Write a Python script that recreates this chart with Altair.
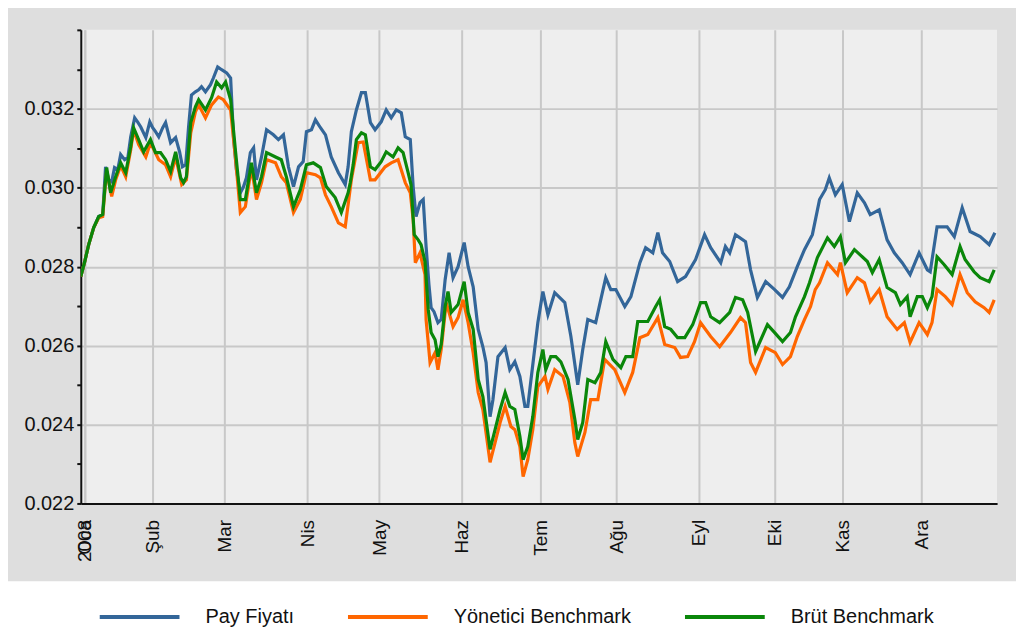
import altair as alt
import pandas as pd

series_names = ["Pay Fiyatı", "Yönetici Benchmark", "Brüt Benchmark"]
series_colors = ["#336699", "#ff6600", "#0a870a"]

pay_days = [0, 1.1, 2.2, 3.6, 5.0, 6.1, 6.9, 7.8, 8.6, 9.4, 10.3, 11.1, 12.2, 13.1, 13.9, 15.0, 15.8, 16.7, 18.1, 19.2,
            20.0, 20.8, 21.7, 22.8, 23.6, 25.0, 26.4, 27.5, 28.3, 29.2, 30.0, 30.8, 31.9, 32.8, 33.6, 34.7, 36.1, 36.9, 38.1, 39.2,
            40.6, 41.7, 42.5, 43.3, 44.4, 45.3, 46.1, 47.2, 48.1, 48.9, 50.3, 51.7, 53.6, 55.0, 56.4, 57.8, 59.2, 60.6, 61.9, 62.8,
            64.2, 65.3, 66.7, 68.1, 69.7, 71.7, 73.6, 74.4, 75.3, 76.7, 78.1, 79.2, 80.6, 81.9, 83.6, 85.0, 86.4, 87.8, 89.2, 90.3,
            91.7, 92.5, 93.3, 94.4, 95.3, 96.1, 96.9, 97.5, 98.3, 99.4, 100.3, 101.4, 102.5, 103.6, 105.0, 106.7, 107.8, 109.2, 110.6, 111.9,
            112.8, 113.9, 114.7, 116.1, 118.1, 119.4, 120.8, 122.2, 123.6, 124.4, 125.3, 127.2, 128.6, 130.0, 131.9, 134.7, 136.4, 138.3, 139.7, 141.1,
            143.3, 144.7, 146.1, 147.5, 148.9, 151.4, 153.1, 155.6, 157.2, 159.2, 160.6, 161.9, 163.9, 166.1, 168.3, 171.1, 173.6, 175.3, 178.1, 179.4,
            180.6, 182.2, 185.0, 186.4, 188.3, 190.6, 193.1, 195.3, 197.2, 199.4, 201.4, 203.6, 205.6, 207.2, 208.3, 210.0, 211.9, 213.9, 216.1, 218.1,
            219.7, 222.2, 224.4, 226.4, 228.6, 230.8, 233.3, 235.6, 236.4, 238.3, 241.1, 243.1, 245.3, 247.5, 250.3, 252.8, 254.4]
pay_values = [0.02775, 0.02813, 0.02856, 0.02899, 0.02927, 0.02932, 0.03053, 0.03020, 0.03015, 0.03051, 0.03046, 0.03084, 0.03071, 0.03076, 0.03129, 0.03177, 0.03167, 0.03154, 0.03127, 0.03167,
              0.03152, 0.03142, 0.03129, 0.03152, 0.03165, 0.03114, 0.03127, 0.03091, 0.03053, 0.03058, 0.03154, 0.03235, 0.03243, 0.03248, 0.03256, 0.03243, 0.03261, 0.03278, 0.03306, 0.03299,
              0.03291, 0.03278, 0.03129, 0.03046, 0.02987, 0.03003, 0.03025, 0.03089, 0.03101, 0.03020, 0.03078, 0.03147, 0.03134, 0.03122, 0.03134, 0.03053, 0.03003, 0.03053, 0.03066, 0.03142,
              0.03147, 0.03172, 0.03152, 0.03134, 0.03078, 0.03038, 0.03008, 0.03053, 0.03142, 0.03197, 0.03241, 0.03241, 0.03165, 0.03147, 0.03167, 0.03197, 0.03177, 0.03197, 0.03190, 0.03129,
              0.03122, 0.03003, 0.02927, 0.02962, 0.02970, 0.02851, 0.02754, 0.02696, 0.02686, 0.02658, 0.02666, 0.02767, 0.02835, 0.02772, 0.02800, 0.02861, 0.02800, 0.02749, 0.02641, 0.02597,
              0.02557, 0.02420, 0.02463, 0.02572, 0.02595, 0.02539, 0.02559, 0.02522, 0.02446, 0.02446, 0.02514, 0.02658, 0.02737, 0.02678, 0.02734, 0.02709, 0.02623, 0.02501, 0.02590, 0.02666,
              0.02658, 0.02716, 0.02772, 0.02742, 0.02742, 0.02699, 0.02724, 0.02810, 0.02848, 0.02835, 0.02886, 0.02835, 0.02813, 0.02762, 0.02775, 0.02818, 0.02881, 0.02848, 0.02810, 0.02851,
              0.02835, 0.02881, 0.02863, 0.02792, 0.02722, 0.02762, 0.02742, 0.02722, 0.02749, 0.02800, 0.02843, 0.02881, 0.02970, 0.02995, 0.03025, 0.02982, 0.03008, 0.02914, 0.02987, 0.02962,
              0.02932, 0.02944, 0.02868, 0.02835, 0.02810, 0.02780, 0.02835, 0.02792, 0.02787, 0.02901, 0.02901, 0.02876, 0.02949, 0.02889, 0.02876, 0.02856, 0.02886]

yon_days = [0, 1.1, 2.2, 3.6, 5.0, 6.1, 6.9, 7.2, 8.6, 9.7, 11.1, 12.5, 13.9, 14.7, 16.1, 18.1, 19.4, 21.7, 23.6, 25.0,
            26.4, 28.1, 29.4, 30.6, 31.9, 32.8, 34.7, 36.4, 38.3, 39.7, 41.7, 43.1, 44.4, 45.8, 47.5, 48.9, 50.3, 51.7, 54.2, 55.8,
            57.2, 59.2, 61.1, 62.8, 65.3, 66.7, 68.1, 69.7, 71.7, 73.6, 75.3, 77.2, 78.6, 80.6, 81.9, 84.7, 86.4, 88.3, 90.3, 91.7,
            92.5, 93.1, 94.4, 95.8, 96.1, 97.2, 98.6, 99.4, 100.3, 101.7, 103.6, 105.0, 106.4, 107.8, 109.2, 110.6, 111.9, 113.9, 115.3, 116.7,
            118.1, 119.7, 120.8, 122.2, 123.1, 124.4, 125.8, 127.2, 129.2, 130.0, 131.9, 134.2, 136.1, 137.5, 138.3, 140.3, 141.9, 143.9, 145.8, 148.6,
            151.4, 153.6, 155.6, 157.8, 160.6, 162.5, 165.3, 166.9, 168.9, 170.8, 172.5, 175.3, 177.8, 180.8, 183.6, 185.0, 186.4, 187.8, 190.6, 193.3,
            195.3, 197.5, 199.4, 201.4, 203.1, 204.4, 205.6, 207.8, 210.6, 211.4, 213.3, 216.1, 218.1, 219.7, 222.2, 224.4, 227.2, 229.2, 230.8, 233.3,
            235.6, 236.9, 238.3, 240.6, 242.5, 244.7, 246.7, 248.9, 251.4, 252.8, 254.2]
yon_values = [0.02775, 0.02813, 0.02856, 0.02899, 0.02924, 0.02927, 0.03015, 0.03041, 0.02978, 0.03020, 0.03056, 0.03028, 0.03096, 0.03147, 0.03109, 0.03078, 0.03114, 0.03071, 0.03058, 0.03028,
              0.03078, 0.03008, 0.03020, 0.03139, 0.03192, 0.03210, 0.03177, 0.03210, 0.03230, 0.03223, 0.03197, 0.03071, 0.02937, 0.02952, 0.03051, 0.02970, 0.03013, 0.03071, 0.03063, 0.03028,
              0.03013, 0.02937, 0.02970, 0.03038, 0.03033, 0.03025, 0.02982, 0.02952, 0.02911, 0.02901, 0.03020, 0.03114, 0.03116, 0.03020, 0.03020, 0.03053, 0.03063, 0.03071, 0.03013, 0.02987,
              0.02919, 0.02810, 0.02835, 0.02780, 0.02666, 0.02557, 0.02582, 0.02539, 0.02590, 0.02709, 0.02648, 0.02671, 0.02716, 0.02658, 0.02582, 0.02481, 0.02438, 0.02304, 0.02354, 0.02405,
              0.02446, 0.02395, 0.02387, 0.02344, 0.02268, 0.02311, 0.02387, 0.02496, 0.02522, 0.02489, 0.02539, 0.02522, 0.02456, 0.02354, 0.02319, 0.02380, 0.02463, 0.02463, 0.02565, 0.02539,
              0.02481, 0.02532, 0.02620, 0.02628, 0.02671, 0.02603, 0.02595, 0.02570, 0.02572, 0.02610, 0.02658, 0.02623, 0.02597, 0.02633, 0.02671, 0.02658, 0.02557, 0.02532, 0.02595, 0.02582,
              0.02552, 0.02572, 0.02623, 0.02666, 0.02699, 0.02742, 0.02759, 0.02810, 0.02780, 0.02810, 0.02734, 0.02772, 0.02759, 0.02711, 0.02742, 0.02673, 0.02641, 0.02658, 0.02608, 0.02658,
              0.02628, 0.02658, 0.02742, 0.02724, 0.02704, 0.02780, 0.02734, 0.02711, 0.02696, 0.02684, 0.02716]

brut_days = [0, 1.1, 2.2, 3.6, 5.0, 6.1, 6.9, 7.2, 8.3, 9.7, 11.1, 12.5, 13.9, 14.7, 16.1, 17.5, 19.4, 20.8, 22.2, 23.6,
             25.0, 26.4, 27.8, 28.6, 29.4, 30.6, 31.9, 32.8, 34.7, 36.4, 37.8, 39.2, 40.3, 41.7, 43.1, 44.4, 45.8, 47.5, 48.9, 50.3,
             51.7, 54.2, 55.8, 57.2, 59.2, 61.1, 62.8, 64.7, 66.7, 68.3, 70.8, 72.5, 74.4, 75.0, 75.8, 76.7, 78.1, 79.2, 80.6, 81.9,
             83.6, 85.0, 86.9, 88.3, 89.7, 91.1, 91.9, 92.8, 93.9, 94.7, 95.8, 96.7, 97.5, 98.6, 99.4, 100.3, 101.4, 102.2, 103.1, 105.0,
             106.7, 107.8, 109.2, 110.6, 111.9, 113.9, 115.3, 116.7, 118.1, 119.4, 120.8, 122.2, 123.1, 124.4, 125.8, 127.2, 128.6, 129.4, 130.8, 132.2,
             133.6, 135.6, 137.5, 138.3, 139.7, 141.1, 143.1, 144.7, 146.1, 148.1, 150.3, 151.7, 153.6, 155.0, 157.8, 160.0, 161.1, 162.5, 164.2, 166.1,
             168.1, 170.3, 172.5, 173.9, 175.3, 177.8, 180.6, 182.2, 184.2, 185.6, 187.8, 191.1, 193.1, 195.3, 197.5, 198.9, 201.4, 202.8, 205.0, 207.8,
             209.7, 211.4, 212.8, 215.3, 216.9, 218.9, 220.3, 222.2, 224.4, 226.7, 228.1, 230.0, 230.8, 232.8, 234.2, 235.6, 236.9, 238.3, 240.3, 242.5,
             244.7, 246.1, 248.6, 250.3, 252.8, 254.2]
brut_values = [0.02775, 0.02813, 0.02856, 0.02899, 0.02927, 0.02932, 0.03020, 0.03051, 0.02987, 0.03028, 0.03063, 0.03038, 0.03104, 0.03152, 0.03122, 0.03091, 0.03122, 0.03089, 0.03089, 0.03071,
               0.03041, 0.03091, 0.03025, 0.03013, 0.03028, 0.03165, 0.03205, 0.03223, 0.03197, 0.03228, 0.03268, 0.03253, 0.03268, 0.03223, 0.03089, 0.02970, 0.02970, 0.03063, 0.02987, 0.03028,
               0.03089, 0.03078, 0.03071, 0.03028, 0.02952, 0.02995, 0.03058, 0.03063, 0.03051, 0.03003, 0.02975, 0.02937, 0.02987, 0.03013, 0.03058, 0.03122, 0.03139, 0.03134, 0.03053, 0.03046,
               0.03066, 0.03091, 0.03078, 0.03101, 0.03089, 0.03038, 0.03008, 0.02881, 0.02868, 0.02856, 0.02813, 0.02691, 0.02633, 0.02615, 0.02572, 0.02603, 0.02699, 0.02737, 0.02684, 0.02704,
               0.02762, 0.02684, 0.02641, 0.02514, 0.02471, 0.02337, 0.02387, 0.02438, 0.02481, 0.02446, 0.02438, 0.02370, 0.02311, 0.02344, 0.02420, 0.02532, 0.02590, 0.02539, 0.02572, 0.02572,
               0.02559, 0.02514, 0.02413, 0.02362, 0.02405, 0.02514, 0.02506, 0.02532, 0.02610, 0.02565, 0.02544, 0.02572, 0.02572, 0.02661, 0.02661, 0.02699, 0.02716, 0.02648, 0.02641, 0.02620,
               0.02620, 0.02653, 0.02709, 0.02709, 0.02673, 0.02658, 0.02684, 0.02722, 0.02716, 0.02684, 0.02585, 0.02653, 0.02633, 0.02610, 0.02633, 0.02673, 0.02724, 0.02759, 0.02823, 0.02873,
               0.02851, 0.02876, 0.02810, 0.02843, 0.02830, 0.02813, 0.02785, 0.02818, 0.02747, 0.02734, 0.02704, 0.02724, 0.02673, 0.02724, 0.02724, 0.02696, 0.02724, 0.02825, 0.02805, 0.02780,
               0.02851, 0.02818, 0.02787, 0.02772, 0.02762, 0.02792]

month_ticks = [1, 1.001, 20, 40, 63, 83, 106, 128, 149, 172, 193, 212, 234]
month_labels = ["2008", "Oca", "Şub", "Mar", "Nis", "May", "Haz", "Tem", "Ağu", "Eyl", "Eki", "Kas", "Ara"]

y_ticks = [0.022, 0.023, 0.024, 0.025, 0.026, 0.027, 0.028, 0.029, 0.030, 0.031, 0.032, 0.033, 0.034]
y_labeled = ["0.022", "0.024", "0.026", "0.028", "0.030", "0.032"]

rows = []
for name, days, vals in [(series_names[0], pay_days, pay_values),
                         (series_names[1], yon_days, yon_values),
                         (series_names[2], brut_days, brut_values)]:
    for d, v in zip(days, vals):
        rows.append({"Gün": d, "Değer": v, "Seri": name})
df = pd.DataFrame(rows)

x_label_expr = " : ".join(f"datum.value == {t} ? '{l}'" for t, l in zip(month_ticks, month_labels)) + " : ''"
y_list = "[" + ",".join(f"'{s}'" for s in y_labeled) + "]"
y_test = f"indexof({y_list}, format(datum.value, '.3f')) >= 0"
y_label_expr = f"{y_test} ? format(datum.value, '.3f') : ''"

FONT = "Liberation Sans"
W, H = 919, 475
SYM = 80

x_enc = alt.X("Gün:Q",
              scale=alt.Scale(domain=[0, 255], nice=False, zero=False),
              axis=alt.Axis(values=month_ticks, labelExpr=x_label_expr, labelAngle=270,
                            ticks=False, labelPadding=16, labelFontSize=19, labelFont=FONT,
                            labelColor="#111111", labelOverlap=False, labelFlush=False,
                            grid=True, gridColor="#c8c8c8", gridWidth=2,
                            domainColor="#111111", domainWidth=2, title=None))
y_enc = alt.Y("Değer:Q",
              scale=alt.Scale(domain=[0.022, 0.034], nice=False, zero=False),
              axis=alt.Axis(values=y_ticks, labelExpr=y_label_expr, tickSize=4, tickWidth=2,
                            tickColor="#111111", labelPadding=3, labelFontSize=20, labelFont=FONT,
                            labelColor="#111111", labelOverlap=False, labelFlush=False,
                            grid=True, gridColor="#c8c8c8", gridWidth=2,
                            gridOpacity={"condition": {"test": y_test, "value": 1}, "value": 0},
                            domainColor="#111111", domainWidth=2, title=None))
color_enc = alt.Color("Seri:N",
                      scale=alt.Scale(domain=series_names, range=series_colors),
                      legend=alt.Legend(orient="none", legendX=17, legendY=H + 112 - SYM // 2,
                                        direction="horizontal",
                                        title=None, symbolType="stroke", symbolSize=SYM * SYM,
                                        symbolStrokeWidth=4, labelFontSize=20, labelFont=FONT,
                                        labelColor="#111111", labelOffset=24, columnPadding=46,
                                        labelLimit=400, padding=0))

white_band = alt.Chart(pd.DataFrame({"k": [0]})).mark_rect(color="white").encode(
    x=alt.value(-120), x2=alt.value(W + 150), y=alt.value(H + 78), y2=alt.value(H + 300))

layers = [white_band]
for name in series_names:
    layers.append(
        alt.Chart(df).transform_filter(alt.datum.Seri == name)
        .mark_line(strokeWidth=3.2, clip=True)
        .encode(x=x_enc, y=y_enc, color=color_enc)
    )

chart = alt.layer(*layers).properties(
    width=W, height=H,
    padding={"left": 73, "top": 21, "right": 19, "bottom": 125},
    autosize=alt.AutoSizeParams(type="none"),
).configure(background="#dedede").configure_view(fill="#eeeeee", strokeWidth=0)

chart.save("out.html", embed_options={"renderer": "svg", "actions": False})
